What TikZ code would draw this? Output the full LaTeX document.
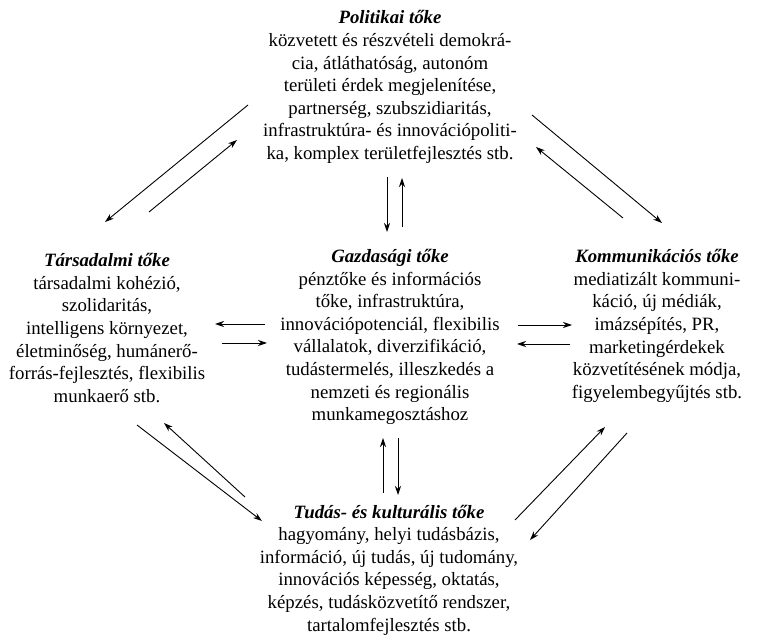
\documentclass[tikz,border=0pt]{standalone}
\usepackage{fontspec}
\setmainfont{Liberation Serif}
\usetikzlibrary{arrows.meta}
\begin{document}
\begin{tikzpicture}[x=1pt,y=-1pt,
  capbox/.style={align=center,inner sep=0pt,font=\fontsize{18.8}{22.6}\selectfont},
  flow/.style={line width=0.9pt,-{Stealth[length=9pt,width=6pt]}}]
\useasboundingbox (0,0) rectangle (764,644);

% the five kinds of capital
\node[capbox] (pol) at (390,87) {\textbf{\textit{Politikai tőke}}\\
  közvetett és részvételi demokrá-\\
  cia, átláthatóság, autonóm\\
  területi érdek megjelenítése,\\
  partnerség, szubszidiaritás,\\
  infrastruktúra- és innovációpoliti-\\
  ka, komplex területfejlesztés stb.};
\node[capbox] (tar) at (107,328) {\textbf{\textit{Társadalmi tőke}}\\
  társadalmi kohézió,\\
  szolidaritás,\\
  intelligens környezet,\\
  életminőség, humánerő-\\
  forrás-fejlesztés, flexibilis\\
  munkaerő stb.};
\node[capbox] (gaz) at (390,337) {\textbf{\textit{Gazdasági tőke}}\\
  pénztőke és információs\\
  tőke, infrastruktúra,\\
  innovációpotenciál, flexibilis\\
  vállalatok, diverzifikáció,\\
  tudástermelés, illeszkedés a\\
  nemzeti és regionális\\
  munkamegosztáshoz};
\node[capbox] (kom) at (657,326) {\textbf{\textit{Kommunikációs tőke}}\\
  mediatizált kommuni-\\
  káció, új médiák,\\
  imázsépítés, PR,\\
  marketingérdekek\\
  közvetítésének módja,\\
  figyelembegyűjtés stb.};
\node[capbox] (tud) at (389,570) {\textbf{\textit{Tudás- és kulturális tőke}}\\
  hagyomány, helyi tudásbázis,\\
  információ, új tudás, új tudomány,\\
  innovációs képesség, oktatás,\\
  képzés, tudásközvetítő rendszer,\\
  tartalomfejlesztés stb.};

% end points of the paired arrows
\coordinate (pt1) at (248,105); \coordinate (tp1) at (105,222);
\coordinate (tp2) at (149,212); \coordinate (pt2) at (237,140);
\coordinate (pk1) at (532,115); \coordinate (kp1) at (662,223);
\coordinate (kp2) at (623,218); \coordinate (pk2) at (536,147);
\coordinate (pg1) at (387,177); \coordinate (gp1) at (387,232);
\coordinate (gp2) at (402,227); \coordinate (pg2) at (402,178);
\coordinate (gt1) at (265,324); \coordinate (tg1) at (215,324);
\coordinate (tg2) at (222,343); \coordinate (gt2) at (267,343);
\coordinate (gk1) at (518,325); \coordinate (kg1) at (572,325);
\coordinate (kg2) at (570,344); \coordinate (gk2) at (517,344);
\coordinate (tu1) at (137,425); \coordinate (ut1) at (262,521);
\coordinate (ut2) at (245,497); \coordinate (tu2) at (164,423);
\coordinate (ku1) at (627,433); \coordinate (uk1) at (530,540);
\coordinate (uk2) at (515,520); \coordinate (ku2) at (605,427);
\coordinate (gu1) at (383,493); \coordinate (ug1) at (383,438);
\coordinate (ug2) at (398,438); \coordinate (gu2) at (398,495);

\draw[flow] (pt1) -- (tp1);
\draw[flow] (tp2) -- (pt2);
\draw[flow] (pk1) -- (kp1);
\draw[flow] (kp2) -- (pk2);
\draw[flow] (pg1) -- (gp1);
\draw[flow] (gp2) -- (pg2);
\draw[flow] (gt1) -- (tg1);
\draw[flow] (tg2) -- (gt2);
\draw[flow] (gk1) -- (kg1);
\draw[flow] (kg2) -- (gk2);
\draw[flow] (tu1) -- (ut1);
\draw[flow] (ut2) -- (tu2);
\draw[flow] (ku1) -- (uk1);
\draw[flow] (uk2) -- (ku2);
\draw[flow] (gu1) -- (ug1);
\draw[flow] (ug2) -- (gu2);
\end{tikzpicture}
\end{document}
